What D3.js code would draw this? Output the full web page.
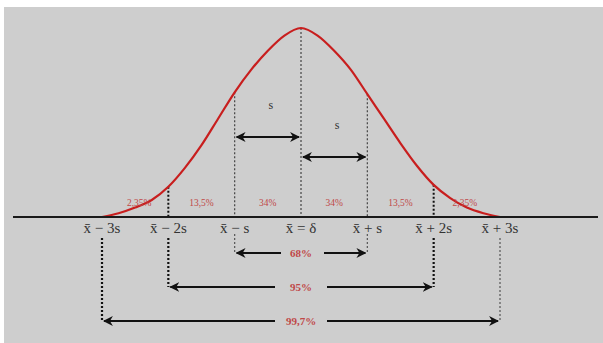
<!DOCTYPE html>
<html>
<head>
<meta charset="utf-8">
<script src="https://cdn.jsdelivr.net/npm/d3@7"></script>
<style>
  html, body { margin: 0; padding: 0; background: #fff; }
  svg { display: block; }
</style>
</head>
<body>
<script>
// positions along the axis, in units of s
var zLevels = [-3, -2, -1, 0, 1, 2, 3];
var tickLabels = ["x\u0304 \u2212 3s", "x\u0304 \u2212 2s", "x\u0304 \u2212 s", "x\u0304 = \u03b4", "x\u0304 + s", "x\u0304 + 2s", "x\u0304 + 3s"];
// share of each band between two neighbouring levels
var bandLabels = ["2,35%", "13,5%", "34%", "34%", "13,5%", "2,35%"];
// intervals +-k s and their coverage
var rangeK = [1, 2, 3];
var rangeLabels = ["68%", "95%", "99,7%"];
// curve (height relative to the peak)
var curveZ = [-3, -2.75, -2.5, -2.25, -2, -1.75, -1.5, -1.25, -1, -0.75, -0.5, -0.25, 0,
              0.25, 0.5, 0.75, 1, 1.25, 1.5, 1.75, 2, 2.25, 2.5, 2.75, 3];
var curveH = [0, 0.02, 0.05, 0.09, 0.16, 0.26, 0.38, 0.52, 0.66, 0.78, 0.88, 0.96, 1,
              0.96, 0.88, 0.78, 0.65, 0.52, 0.39, 0.27, 0.17, 0.1, 0.05, 0.02, 0];

var W = 603, H = 343;
var axisY = 217;

var svg = d3.select("body").append("svg").attr("width", W).attr("height", H);

svg.append("rect").attr("x", 4).attr("y", 7).attr("width", W - 4).attr("height", H - 7)
    .attr("fill", "#cecece");

var x = d3.scaleLinear().domain([-3, 3]).range([102, 500]);
var y = d3.scaleLinear().domain([0, 1]).range([axisY, 28]);

function curveAt(z){
    var i = curveZ.indexOf(z);
    return i < 0 ? 0 : curveH[i];
}

var defs = svg.append("defs");
function addMarker(id, orient){
    defs.append("marker")
        .attr("id", id)
        .attr("viewBox", "0 0 10 10")
        .attr("refX", 9).attr("refY", 5)
        .attr("markerWidth", 4.5).attr("markerHeight", 4.5)
        .attr("markerUnits", "strokeWidth")
        .attr("orient", orient)
        .append("path")
        .attr("d", "M0,0 L10,5 L0,10 L3,5 Z")
        .attr("fill", "#111");
}
addMarker("ah", "auto");
addMarker("at", "auto-start-reverse");

// dotted drop lines above the axis
var heavy = function(z){ return Math.abs(z) >= 2; };
svg.append("g").selectAll("line").data(zLevels.filter(function(z){ return Math.abs(z) < 3; }))
    .join("line")
    .attr("x1", function(z){ return x(z); })
    .attr("x2", function(z){ return x(z); })
    .attr("y1", function(z){ return y(curveAt(z)); })
    .attr("y2", axisY)
    .attr("stroke", function(z){ return heavy(z) ? "#111" : "#444"; })
    .attr("stroke-width", function(z){ return heavy(z) ? 2 : 1.2; })
    .attr("stroke-dasharray", "2,2");

// dotted drop lines below the labels, down to the range arrows
var rangeY = d3.scaleOrdinal().domain(rangeK).range([253, 287, 321]);
var below = [];
rangeK.forEach(function(k){ below.push(-k); below.push(k); });
svg.append("g").selectAll("line").data(below)
    .join("line")
    .attr("x1", function(z){ return x(z); })
    .attr("x2", function(z){ return x(z); })
    .attr("y1", function(z){ return Math.abs(z) === 1 ? 234 : 238; })
    .attr("y2", function(z){ return rangeY(Math.abs(z)); })
    .attr("stroke", function(z){ return (z === -3 || Math.abs(z) === 2) ? "#111" : "#555"; })
    .attr("stroke-width", function(z){ return (z === -3 || Math.abs(z) === 2) ? 2.2 : 1.2; })
    .attr("stroke-dasharray", "2,2");

// bell curve
var line = d3.line()
    .x(function(d){ return x(d[0]); })
    .y(function(d){ return y(d[1]); })
    .curve(d3.curveMonotoneX);
svg.append("path")
    .datum(d3.zip(curveZ, curveH))
    .attr("d", line)
    .attr("fill", "none")
    .attr("stroke", "#c81e1e")
    .attr("stroke-width", 2.2);

// horizontal axis
svg.append("line")
    .attr("x1", 13).attr("x2", 598)
    .attr("y1", axisY).attr("y2", axisY)
    .attr("stroke", "#1a1a1a").attr("stroke-width", 2);

// tick labels
svg.append("g").selectAll("text").data(zLevels)
    .join("text")
    .attr("x", function(z){ return x(z); })
    .attr("y", 233)
    .attr("text-anchor", "middle")
    .attr("font-family", "'Liberation Serif', 'DejaVu Serif', serif")
    .attr("font-size", 15)
    .attr("fill", "#333")
    .text(function(z, i){ return tickLabels[i]; });

// band percentages
svg.append("g").selectAll("text").data(bandLabels)
    .join("text")
    .attr("x", function(d, i){ return (x(zLevels[i]) + x(zLevels[i + 1])) / 2 + (i === 0 ? 4 : 0) + (i === 5 ? -2 : 0); })
    .attr("y", 206)
    .attr("text-anchor", "middle")
    .attr("font-family", "'Liberation Serif', serif")
    .attr("font-size", 9.5)
    .attr("fill", "#c04848")
    .text(function(d){ return d; });

// the two "s" arrows
var sArrows = [[-1, 0, 137], [0, 1, 157]];
svg.append("g").selectAll("line").data(sArrows)
    .join("line")
    .attr("x1", function(d){ return x(d[0]) + 2; })
    .attr("x2", function(d){ return x(d[1]) - 2; })
    .attr("y1", function(d){ return d[2]; })
    .attr("y2", function(d){ return d[2]; })
    .attr("stroke", "#111").attr("stroke-width", 2.2)
    .attr("marker-start", "url(#at)")
    .attr("marker-end", "url(#ah)");
svg.append("g").selectAll("text").data(sArrows)
    .join("text")
    .attr("x", function(d){ return (x(d[0]) + x(d[1])) / 2 + 3; })
    .attr("y", function(d){ return d[2] - 28; })
    .attr("text-anchor", "middle")
    .attr("font-family", "'Liberation Serif', serif")
    .attr("font-size", 12)
    .attr("fill", "#333")
    .text("s");

// range arrows with a gap for the label
var cx = (x(-1) + x(1)) / 2;
var gapHalf = 26;
var rg = svg.append("g");
rangeK.forEach(function(k, i){
    var yy = rangeY(k);
    rg.append("line")
        .attr("x1", x(-k) + 2).attr("x2", cx - gapHalf + (k === 1 ? 6 : 0))
        .attr("y1", yy).attr("y2", yy)
        .attr("stroke", "#111").attr("stroke-width", 2.2)
        .attr("marker-start", "url(#at)");
    rg.append("line")
        .attr("x1", cx + gapHalf - (k === 1 ? 3 : 0)).attr("x2", x(k) - 2)
        .attr("y1", yy).attr("y2", yy)
        .attr("stroke", "#111").attr("stroke-width", 2.2)
        .attr("marker-end", "url(#ah)");
    rg.append("text")
        .attr("x", cx).attr("y", yy + 4)
        .attr("text-anchor", "middle")
        .attr("font-family", "'Liberation Serif', serif")
        .attr("font-weight", "bold")
        .attr("font-size", 11)
        .attr("fill", "#c04848")
        .text(rangeLabels[i]);
});
</script>
</body>
</html>
